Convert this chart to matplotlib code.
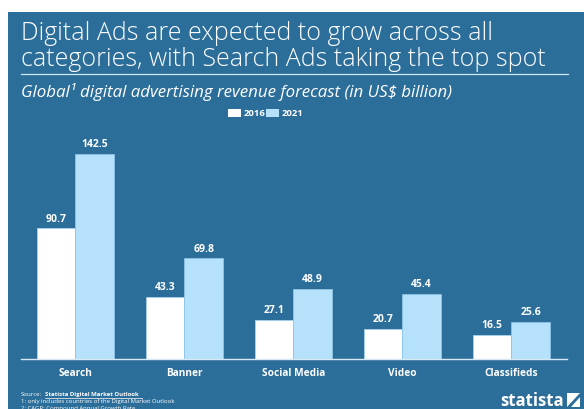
import matplotlib
matplotlib.use("Agg")
import matplotlib.pyplot as plt
import numpy as np
from matplotlib.patches import Rectangle, Polygon
from matplotlib.lines import Line2D

# digital ad revenue by category, US$ billion
categories = ["Search", "Banner", "Social Media", "Video", "Classifieds"]
rev_2016 = [90.7, 43.3, 27.1, 20.7, 16.5]
rev_2021 = [142.5, 69.8, 48.9, 45.4, 25.6]
years = ["2016", "2021"]

bg = "#2c6e9a"
light = "#b5e1fb"
fonts = ["Open Sans", "DejaVu Sans"]

W, H = 584, 410
fig = plt.figure(figsize=(W / 100, H / 100), dpi=100)
fig.patch.set_facecolor("white")

def fx(px):
    return px / W

def fy(py):
    return 1 - py / H

# blue card behind everything
fig.patches.append(Rectangle((fx(8), 0), 1 - fx(8), fy(13), transform=fig.transFigure,
                             facecolor=bg, edgecolor="none", zorder=-10))

fig.text(fx(21), fy(33), "Digital Ads are expected to grow across all", color="white",
         fontsize=18.0, family=fonts, va="center", ha="left", fontweight="light")
fig.text(fx(21), fy(60), "categories, with Search Ads taking the top spot", color="white",
         fontsize=18.0, family=fonts, va="center", ha="left", fontweight="light")
fig.add_artist(Line2D([fx(21), fx(568)], [fy(75), fy(75)], transform=fig.transFigure,
                      color="#cfe3f0", lw=0.9))
fig.text(fx(21), fy(92), "Global¹ digital advertising revenue forecast (in US$ billion)",
         color="white", fontsize=12.2, family=fonts, style="italic", fontweight="medium",
         va="center", ha="left")

# legend
for sx, col, lab in [(228, "white", years[0]), (266, light, years[1])]:
    fig.patches.append(Rectangle((fx(sx), fy(118)), fx(13), 8 / H, transform=fig.transFigure,
                                 facecolor=col, edgecolor="none"))
    fig.text(fx(sx + 16), fy(113.5), lab, color="white", fontsize=6.8, fontweight="bold",
             family=fonts, va="center", ha="left")

ax = fig.add_axes([fx(21), 50 / H, fx(567) - fx(21), 210 / H])
ax.set_facecolor("none")
x = np.arange(len(categories))
w = 0.353
b1 = ax.bar(x - w / 2, rev_2016, w, color="white", edgecolor="#a8d3ee", linewidth=0.6)
b2 = ax.bar(x + w / 2, rev_2021, w, color=light, edgecolor="#8cc3e6", linewidth=0.6)
for bars in (b1, b2):
    for r in bars:
        v = r.get_height()
        ax.annotate(f"{v:.1f}", (r.get_x() + r.get_width() / 2, v), xytext=(0, 3.5),
                    textcoords="offset points", ha="center", va="bottom", color="white",
                    fontsize=7.5, fontweight="bold", family=fonts)

ax.set_xlim(-0.5, 4.51)
ax.set_ylim(0, 145.8)
ax.set_yticks([])
ax.set_xticks(x)
ax.set_xticklabels(categories, color="white", fontsize=7.3, fontweight="bold", family=fonts)
ax.tick_params(axis="x", length=0, pad=6)
for s in ["top", "right", "left"]:
    ax.spines[s].set_visible(False)
ax.spines["bottom"].set_color("#d6e8f4")
ax.spines["bottom"].set_linewidth(1.0)

# footnotes
fig.text(fx(21), fy(395), "Source:", color="white", fontsize=4.3, family=fonts, va="center")
fig.text(fx(45), fy(395), "Statista Digital Market Outlook", color="white", fontsize=4.3,
         fontweight="bold", family=fonts, va="center")
fig.add_artist(Line2D([fx(45), fx(142)], [fy(398.5), fy(398.5)], transform=fig.transFigure,
                      color="white", lw=0.5))
fig.text(fx(21), fy(402), "1: only includes countries of the Digital Market Outlook", color="white",
         fontsize=4.3, family=fonts, va="center")
fig.text(fx(21), fy(409), "2: CAGR: Compound Annual Growth Rate", color="white",
         fontsize=4.3, family=fonts, va="center")

# logo
fig.text(fx(564), fy(401), "statista", color="white", fontsize=12, fontweight="bold",
         family=fonts, va="center", ha="right")
fig.patches.append(Polygon([[fx(567), fy(408)], [fx(567), fy(394)], [fx(580), fy(394)],
                            [fx(580), fy(408)]], closed=True, transform=fig.transFigure,
                           facecolor="white", edgecolor="none"))
fig.patches.append(Polygon([[fx(567), fy(408)], [fx(580), fy(394)], [fx(580), fy(398)],
                            [fx(571), fy(408)]], closed=True, transform=fig.transFigure,
                           facecolor=bg, edgecolor="none"))

fig.savefig("out.png", dpi=100, facecolor=fig.get_facecolor())
